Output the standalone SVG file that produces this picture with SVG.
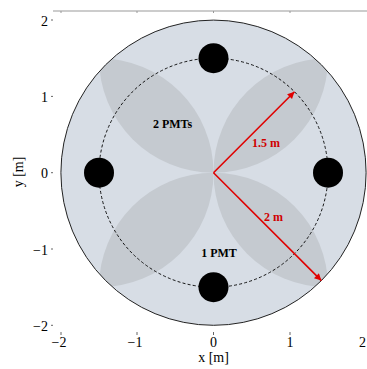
<svg xmlns="http://www.w3.org/2000/svg" width="367" height="369" viewBox="0 0 367 369">
<style>
.tick{font-family:"Liberation Serif",serif;font-size:14px;fill:#000}
.lbl{font-family:"Liberation Serif",serif;font-size:12px;font-weight:bold}
.ax{stroke:#999;stroke-width:1;fill:none}
.lens{fill:#c5cad0}
</style>
<defs>
<clipPath id="disk"><circle cx="0" cy="0" r="152.6"/></clipPath>
<marker id="ah" viewBox="0 0 10 10" refX="10" refY="5" markerWidth="9" markerHeight="7" markerUnits="userSpaceOnUse" orient="auto"><path d="M0,0 L10,5 L0,10 Z" fill="#e00000"/></marker>
<path id="lensp" d="M0,0 A114.5,114.5 0 0 0 114.5,-114.5 A114.5,114.5 0 0 0 0,0 Z"/>
</defs>
<rect width="367" height="369" fill="#fff"/>
<g id="axes">
<line class="ax" x1="53" y1="11" x2="367" y2="11"/>
<line class="ax" x1="61" y1="11" x2="61" y2="13"/>
<line class="ax" x1="137" y1="11" x2="137" y2="13"/>
<line class="ax" x1="213.5" y1="11" x2="213.5" y2="13"/>
<line class="ax" x1="290" y1="11" x2="290" y2="13"/>
<g stroke="#666" stroke-width="1">
<line x1="61" y1="332" x2="61" y2="335"/>
<line x1="137" y1="332" x2="137" y2="335"/>
<line x1="213.5" y1="332" x2="213.5" y2="335"/>
<line x1="290" y1="332" x2="290" y2="335"/>
<line x1="51" y1="20" x2="53" y2="20"/>
<line x1="51" y1="96.4" x2="53" y2="96.4"/>
<line x1="51" y1="172.7" x2="53" y2="172.7"/>
<line x1="51" y1="249" x2="53" y2="249"/>
<line x1="51" y1="325.3" x2="53" y2="325.3"/>
</g>
<g class="tick" text-anchor="middle">
<text x="59" y="347">−2</text>
<text x="135" y="347">−1</text>
<text x="213.5" y="347">0</text>
<text x="290" y="347">1</text>
<text x="213.5" y="362">x [m]</text>
</g>
<text class="tick" x="366" y="347" text-anchor="end">2</text>
<g class="tick" text-anchor="end">
<text x="48" y="25.5">2</text>
<text x="48" y="102">1</text>
<text x="48" y="178">0</text>
<text x="48" y="254.5">−1</text>
<text x="48" y="331">−2</text>
</g>
<text class="tick" text-anchor="middle" transform="translate(23,172) rotate(-90)">y [m]</text>
</g>
<g id="detector" transform="translate(213.5,172.7)">
<circle cx="0" cy="0" r="152.6" fill="#d7dde5"/>
<g id="lenses" clip-path="url(#disk)">
<use href="#lensp" class="lens"/>
<use href="#lensp" class="lens" transform="rotate(90)"/>
<use href="#lensp" class="lens" transform="rotate(180)"/>
<use href="#lensp" class="lens" transform="rotate(270)"/>
</g>
<circle cx="0" cy="0" r="152.6" fill="none" stroke="#222" stroke-width="1"/>
<circle cx="0" cy="0" r="114.5" fill="none" stroke="#000" stroke-width="0.9" stroke-dasharray="3,2.2"/>
<g id="pmt-top"><circle cx="0" cy="-114.5" r="15" fill="#000"/></g>
<g id="pmt-right"><circle cx="114.5" cy="0" r="15" fill="#000"/></g>
<g id="pmt-bottom"><circle cx="0" cy="114.5" r="15" fill="#000"/></g>
<g id="pmt-left"><circle cx="-114.5" cy="0" r="15" fill="#000"/></g>
</g>
<g id="connectors" stroke="#e00000" stroke-width="1.6" fill="none">
<line x1="213.5" y1="172.7" x2="294.5" y2="91.7" marker-end="url(#ah)"/>
<line x1="213.5" y1="172.7" x2="321.4" y2="280.6" marker-end="url(#ah)"/>
</g>
<g id="labels" text-anchor="middle">
<text class="lbl" x="266" y="147" fill="#d00000">1.5 m</text>
<text class="lbl" x="273.5" y="221" fill="#d00000">2 m</text>
<text class="lbl" x="172.5" y="128" fill="#000">2 PMTs</text>
<text class="lbl" x="219" y="257" fill="#000">1 PMT</text>
</g>
</svg>
